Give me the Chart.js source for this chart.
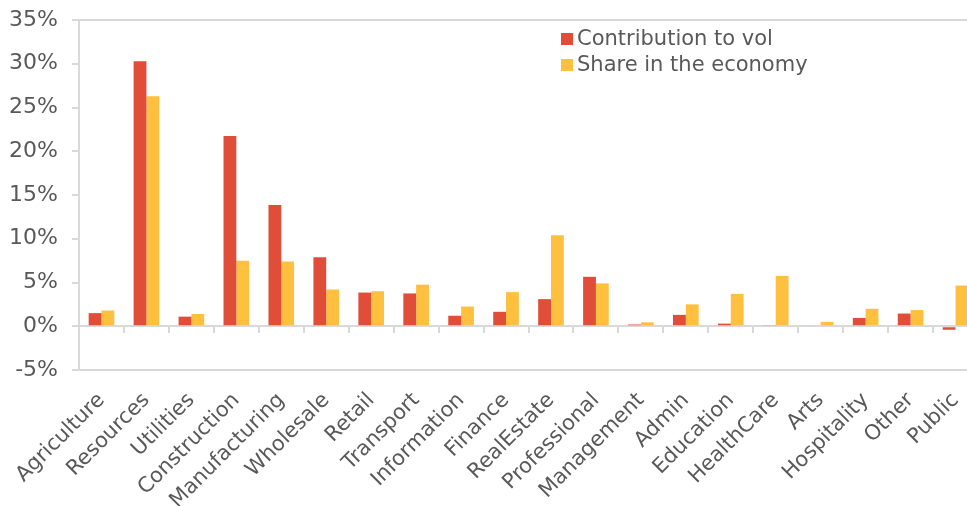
<!DOCTYPE html>
<html>
<head>
<meta charset="utf-8">
<script src="https://cdn.jsdelivr.net/npm/chart.js@4"></script>
<style>
  html, body { margin: 0; padding: 0; background: #fff; overflow: hidden; }
  #wrap { width: 980px; height: 506px; position: relative; }
</style>
</head>
<body>
<div id="wrap"><canvas id="chartBars"></canvas></div>
<script>
// data (percent)
const sectors = ["Agriculture", "Resources", "Utilities", "Construction", "Manufacturing",
  "Wholesale", "Retail", "Transport", "Information", "Finance", "RealEstate",
  "Professional", "Management", "Admin", "Education", "HealthCare", "Arts",
  "Hospitality", "Other", "Public"];
const contribution = [1.5, 30.3, 1.1, 21.75, 13.85, 7.9, 3.85, 3.75, 1.2, 1.65, 3.1,
  5.65, 0.2, 1.3, 0.3, 0.1, 0, 0.95, 1.45, -0.4];
const share = [1.8, 26.3, 1.4, 7.5, 7.4, 4.2, 4.0, 4.75, 2.25, 3.9, 10.4,
  4.9, 0.45, 2.5, 3.7, 5.75, 0.5, 2.0, 1.85, 4.65];
const seriesNames = ["Contribution to vol", "Share in the economy"];
const yTicks = [-5, 0, 5, 10, 15, 20, 25, 30, 35];

const RED = "#E04E39";
const YELLOW = "#FFBF3F";
const AXIS = "#d9d9d9";
const TEXT = "#595959";
const FONT = "'DejaVu Sans', Verdana, sans-serif";

// legend drawn inside the plot, two rows
const insideLegend = {
  id: "insideLegend",
  afterDraw(chart) {
    const ctx = chart.ctx;
    const x = 561, y0 = 39, rowH = 26;
    ctx.save();
    ctx.font = "21px " + FONT;
    ctx.textBaseline = "middle";
    chart.data.datasets.forEach((ds, i) => {
      const y = y0 + i * rowH;
      ctx.fillStyle = ds.backgroundColor;
      ctx.fillRect(x, y - 6, 12, 12);
      ctx.fillStyle = TEXT;
      ctx.fillText(ds.label, x + 16, y + 1);
    });
    ctx.restore();
  }
};

const chartBars = new Chart(document.getElementById("chartBars"), {
  type: "bar",
  data: {
    labels: sectors,
    datasets: [
      { label: seriesNames[0], data: contribution, backgroundColor: RED },
      { label: seriesNames[1], data: share, backgroundColor: YELLOW }
    ]
  },
  options: {
    responsive: true,
    maintainAspectRatio: false,
    animation: false,
    layout: { padding: { left: 0, top: 20, right: 2, bottom: 0 } },
    datasets: { bar: { categoryPercentage: 0.57, barPercentage: 1 } },
    plugins: { legend: { display: false }, tooltip: { enabled: false } },
    scales: {
      x: {
        grid: { display: false },
        border: { display: true, color: AXIS, width: 2 },
        ticks: {
          color: TEXT, font: { family: FONT, size: 21 },
          maxRotation: 45, minRotation: 45, autoSkip: false, padding: 10
        },
        afterFit(s) { s.height = 136; s.paddingLeft = 0; s.paddingRight = 0; }
      },
      x0: {
        type: "category",
        position: { y: 0 },
        offset: true,
        grid: { display: true, offset: true, drawOnChartArea: false, drawTicks: true,
                tickLength: 6, color: AXIS, lineWidth: 2 },
        border: { display: true, color: AXIS, width: 2 },
        ticks: { display: false },
        afterFit(s) { s.height = 0; s.paddingTop = 0; s.paddingBottom = 0; }
      },
      y: {
        min: -5, max: 35,
        afterBuildTicks(s) { s.ticks = yTicks.map(v => ({ value: v })); },
        grid: {
          drawTicks: true, tickLength: 7, tickColor: AXIS, lineWidth: 2,
          color: ctx => (ctx.tick && ctx.tick.value === 35) ? AXIS : "rgba(0,0,0,0)"
        },
        border: { display: true, color: AXIS, width: 2 },
        ticks: {
          color: TEXT, font: { family: FONT, size: 22 }, padding: 14,
          callback: v => v + "%"
        },
        afterFit(s) { s.width = 79; s.paddingTop = 0; s.paddingBottom = 0; }
      }
    }
  },
  plugins: [insideLegend]
});
</script>
</body>
</html>
